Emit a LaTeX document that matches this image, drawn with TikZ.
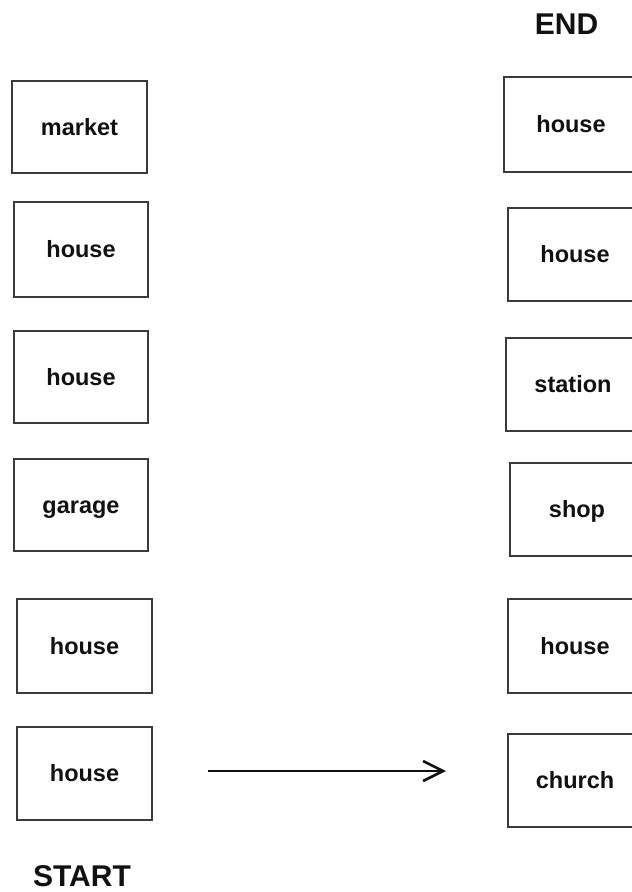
\documentclass[tikz,border=0pt]{standalone}
\usepackage{fontspec}
\setmainfont{Liberation Sans}
\usetikzlibrary{arrows.meta}
\definecolor{boxline}{HTML}{3A3A3A}
\definecolor{txt}{HTML}{111111}
\begin{document}
\begin{tikzpicture}[x=1pt,y=-1pt,
  place/.style={draw=boxline, line width=1.6pt, fill=white, inner sep=0pt,
    minimum width=134pt, minimum height=93pt, text height=16pt, text depth=0pt,
    font=\fontsize{23.5}{27}\selectfont\bfseries, text=txt},
  endlabel/.style={font=\fontsize{30}{34}\selectfont\bfseries, text=txt, inner sep=0pt},
  walk/.style={line width=2.6pt, draw=txt, -{Straight Barb[length=20pt,width=20pt,line width=2.6pt]}}
]
\useasboundingbox (0,0) rectangle (632,892);
\clip (0,0) rectangle (632,892);
\fill[white] (0,0) rectangle (632,892);
% left column
\node[place, minimum width=135pt, minimum height=92pt] (l1) at (79.5,127) {market};
\node[place, minimum height=95pt] (l2) at (81,249.5) {house};
\node[place, minimum height=92pt] (l3) at (81,377) {house};
\node[place, minimum height=92pt] (l4) at (81,505) {garage};
\node[place, minimum width=135pt, minimum height=94pt] (l5) at (84.5,646) {house};
\node[place, minimum width=135pt, minimum height=93pt] (l6) at (84.5,773.5) {house};
% right column
\node[place, minimum height=95pt] (r1) at (571,124.5) {house};
\node[place] (r2) at (575,254.5) {house};
\node[place] (r3) at (573,384.5) {station};
\node[place] (r4) at (577,509.5) {shop};
\node[place, minimum height=94pt] (r5) at (575,646) {house};
\node[place] (r6) at (575,780.5) {church};
% labels
\node[endlabel] (endl) at (566.5,24) {END};
\node[endlabel] (startl) at (82,876) {START};
% arrow
\coordinate (as) at (208,771);
\coordinate (ae) at (446,771);
\draw[walk] (as) -- (ae);
\end{tikzpicture}
\end{document}
